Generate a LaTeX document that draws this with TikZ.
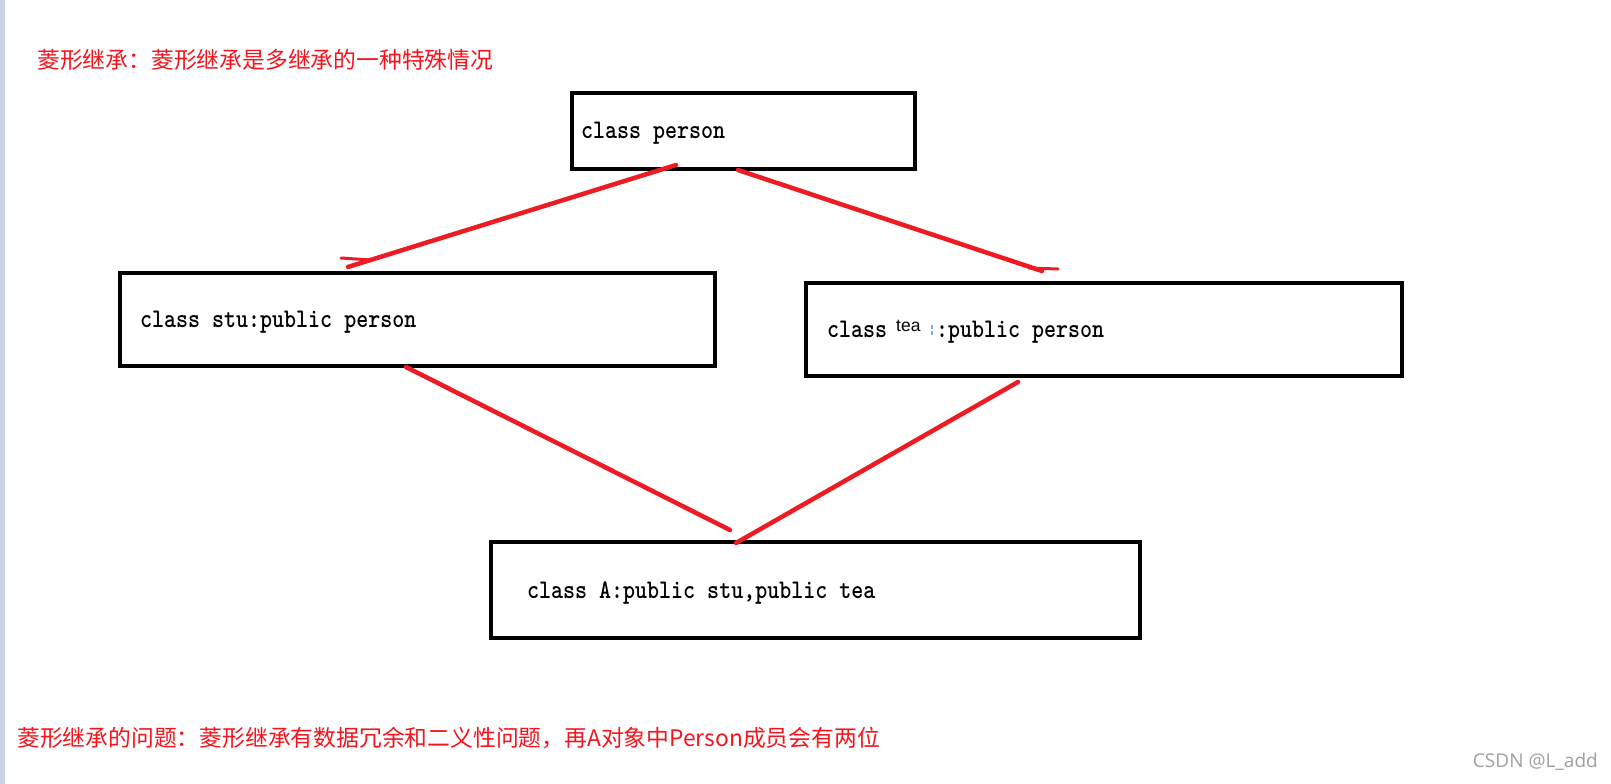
\documentclass[tikz,border=0pt]{standalone}
\usepackage{fontspec}
\newfontfamily\cjk{Noto Sans CJK SC}
\newfontfamily\boxfont{lmmonolt10-bold.otf}[FakeStretch=0.85]
\newfontfamily\arialf{Liberation Sans}
\newfontfamily\wmfont{Open Sans}
\definecolor{paintred}{RGB}{237,28,36}
\definecolor{txtred}{RGB}{245,20,30}
\definecolor{stripc}{RGB}{201,211,227}
\definecolor{wmgray}{RGB}{160,160,160}
\definecolor{markblue}{RGB}{120,170,225}
\begin{document}
\begin{tikzpicture}[x=1pt,y=-1pt,
  box/.style={draw=black, line width=4pt, rectangle, inner sep=0pt},
  edge/.style={draw=paintred, line width=4.5pt, line cap=round},
  code/.style={anchor=base west, inner sep=0pt, font=\boxfont\fontsize{26.9}{30}\selectfont},
  note/.style={anchor=base west, inner sep=0pt, text=txtred, font=\cjk\fontsize{22.8}{27}\selectfont}]
\fill[white] (0,0) rectangle (1611,784);
\useasboundingbox (0,0) rectangle (1611,784);
\fill[stripc] (0,0) rectangle (5,784);

% boxes
\node[box, minimum width=343pt, minimum height=76.5pt] (person) at (743.5,130.75) {};
\node[box, minimum width=595.5pt, minimum height=93.3pt] (stu) at (417.25,319.35) {};
\node[box, minimum width=596pt, minimum height=92.8pt] (tea) at (1104,329.1) {};
\node[box, minimum width=649pt, minimum height=96pt] (A) at (815.5,589.5) {};

% box texts
\node[code] (tperson) at (581,138.5) {class person};
\node[code] (tstu) at (140,327.5) {class stu:public person};
\node[code] (tteaa) at (827,337) {class};
\node[anchor=base west, inner sep=0pt, font=\arialf\fontsize{17.5}{20}\selectfont] (tteab) at (896,331.5) {tea};
\node[code] (tteac) at (936,337) {:public person};
\node[code] (tA) at (527,598.5) {class A:public stu,public tea};
\draw[markblue, line width=1.2pt, dash pattern=on 4pt off 1.5pt] (932,325) -- (932,335);

% connector end points
\coordinate (p1) at (676,165);
\coordinate (s1) at (348,267);
\coordinate (p2) at (738,170);
\coordinate (t1) at (1042,271);
\coordinate (s2) at (406,367);
\coordinate (a1) at (730,530);
\coordinate (t2) at (1018,382);
\coordinate (a2) at (736,543);
\coordinate (h1a) at (341,258);
\coordinate (h1b) at (371,260);
\coordinate (h2a) at (1029,268);
\coordinate (h2b) at (1058,269);

\draw[edge] (p1) -- (s1);
\draw[edge, line width=3pt] (h1a) -- (h1b);
\draw[edge] (p2) -- (t1);
\draw[edge, line width=3pt] (h2a) -- (h2b);
\draw[edge] (s2) -- (a1);
\draw[edge] (t2) -- (a2);

% notes
\node[note] (title) at (37,68.4) {菱形继承：菱形继承是多继承的一种特殊情况};
\node[note] (problem) at (17,746.2) {菱形继承的问题：菱形继承有数据冗余和二义性问题，再A对象中Person成员会有两位};
\node[anchor=base east, inner sep=0pt, text=wmgray, font=\wmfont\fontsize{19}{22}\selectfont] (wm) at (1598,767) {CSDN @L\_add};
\end{tikzpicture}
\end{document}
